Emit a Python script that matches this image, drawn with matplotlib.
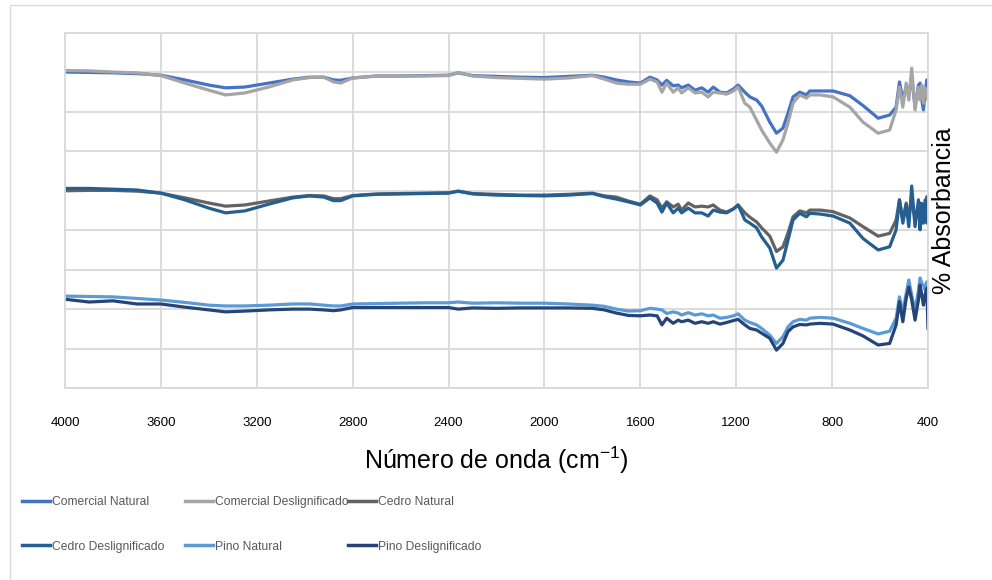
import matplotlib
matplotlib.use("Agg")
import matplotlib.pyplot as plt
from matplotlib.patches import Rectangle

plt.rcParams['font.family'] = ['Liberation Sans', 'DejaVu Sans']
plt.rcParams['mathtext.fontset'] = 'custom'
plt.rcParams['mathtext.rm'] = 'Liberation Sans'

# numero de onda (cm-1)
numero_onda = [4000, 3900, 3800, 3700, 3600, 3500, 3400, 3330, 3250, 3150,
               3050, 2980, 2920, 2880, 2850, 2800, 2700, 2600, 2500, 2400,
               2360, 2300, 2200, 2100, 2000, 1900, 1800, 1750, 1700, 1650,
               1600, 1560, 1530, 1510, 1490, 1463, 1442, 1428, 1400, 1372,
               1344, 1317, 1296, 1268, 1240, 1212, 1192, 1164, 1143, 1115,
               1094, 1060, 1032, 1005, 984, 963, 935, 907, 893, 850,
               796, 726, 671, 608, 560, 533, 519, 505, 491, 480,
               468, 454, 440, 433, 426, 419, 412, 405, 400]

comercial_natural = [80.1, 80.0, 79.9, 79.7, 79.3, 78.1, 76.8, 76.1, 76.3, 77.3,
                     78.3, 78.8, 78.8, 78.1, 78.0, 78.6, 79.1, 79.1, 79.2, 79.3,
                     79.9, 79.2, 79.0, 78.8, 78.7, 79.0, 79.3, 78.8, 78.1, 77.6,
                     77.3, 78.8, 78.1, 76.8, 78.0, 76.6, 76.8, 76.1, 76.8, 75.5,
                     76.1, 75.0, 76.3, 75.0, 74.8, 75.8, 76.8, 75.0, 73.8, 73.0,
                     71.5, 67.4, 64.6, 65.9, 69.7, 73.8, 75.0, 74.3, 75.3, 75.3,
                     75.3, 74.1, 71.6, 68.4, 69.2, 71.2, 77.6, 73.0, 76.3, 74.3,
                     78.8, 71.2, 76.8, 77.3, 73.0, 70.5, 75.0, 78.1, 74.8]

comercial_deslig = [80.5, 80.4, 80.1, 79.9, 79.2, 77.3, 75.5, 74.3, 74.8, 76.3,
                    78.1, 78.7, 78.8, 77.6, 77.3, 78.6, 79.1, 79.1, 79.1, 79.2,
                    80.0, 79.1, 78.7, 78.5, 78.3, 78.6, 79.2, 78.3, 77.3, 77.0,
                    77.0, 78.3, 77.6, 75.0, 77.3, 75.0, 76.1, 74.8, 76.1, 74.8,
                    75.0, 73.8, 75.0, 74.8, 74.5, 75.3, 76.3, 72.2, 71.2, 67.9,
                    65.4, 62.1, 59.8, 62.9, 67.2, 72.2, 74.3, 73.5, 74.3, 74.3,
                    73.8, 71.2, 67.4, 64.6, 65.4, 70.5, 76.3, 71.2, 77.3, 73.0,
                    81.1, 70.5, 76.3, 73.0, 76.8, 72.2, 76.1, 74.8, 73.0]

cedro_natural = [50.0, 50.1, 50.1, 49.9, 49.4, 48.2, 46.9, 46.1, 46.4, 47.4,
                 48.4, 48.8, 48.7, 48.0, 48.0, 48.8, 49.2, 49.3, 49.4, 49.5,
                 49.9, 49.3, 49.1, 48.9, 48.9, 49.1, 49.4, 48.7, 48.4, 47.4,
                 46.6, 48.7, 47.7, 45.6, 47.2, 45.9, 46.6, 45.1, 46.9, 45.9,
                 46.1, 45.9, 46.4, 45.1, 44.6, 45.4, 46.4, 44.4, 43.3, 42.1,
                 40.6, 38.5, 34.6, 35.8, 39.3, 43.4, 44.9, 44.4, 45.1, 45.1,
                 44.7, 43.1, 40.9, 38.5, 39.2, 42.6, 47.7, 42.6, 46.9, 43.4,
                 47.7, 42.6, 46.0, 46.9, 41.8, 46.4, 43.4, 48.5, 44.4]

cedro_deslig = [50.6, 50.6, 50.4, 50.2, 49.4, 47.7, 45.6, 44.4, 44.9, 46.6,
                48.2, 48.7, 48.4, 47.5, 47.5, 48.7, 49.1, 49.2, 49.3, 49.4,
                49.9, 49.2, 48.9, 48.8, 48.7, 48.9, 49.3, 48.5, 47.9, 47.2,
                46.4, 48.2, 46.9, 44.6, 46.9, 44.4, 45.6, 44.4, 45.6, 44.4,
                44.4, 43.6, 45.1, 44.6, 44.4, 45.4, 46.4, 42.6, 41.8, 40.6,
                38.3, 35.5, 30.4, 32.4, 37.5, 42.6, 44.3, 43.4, 44.3, 44.1,
                43.6, 41.8, 37.9, 35.0, 35.8, 40.1, 47.7, 41.8, 46.4, 40.9,
                51.2, 40.9, 47.7, 40.1, 46.8, 41.8, 47.7, 41.8, 46.0]

pino_natural = [23.3, 23.2, 23.1, 22.7, 22.3, 21.7, 21.0, 20.8, 20.8, 21.0,
                21.3, 21.3, 21.0, 20.8, 20.8, 21.3, 21.4, 21.5, 21.6, 21.6,
                21.8, 21.5, 21.6, 21.5, 21.5, 21.3, 21.0, 20.7, 20.0, 19.5,
                19.6, 20.2, 20.0, 19.8, 18.9, 19.3, 19.0, 18.5, 19.1, 18.5,
                18.8, 18.3, 18.5, 17.7, 17.9, 18.3, 18.8, 17.2, 16.6, 16.0,
                15.1, 13.4, 11.3, 13.0, 15.5, 16.8, 17.4, 17.2, 17.7, 17.9,
                17.7, 16.4, 15.1, 13.7, 14.4, 17.7, 23.1, 19.3, 24.0, 27.4,
                23.6, 19.5, 24.8, 27.9, 26.6, 26.1, 24.8, 26.9, 24.3]

pino_deslig = [22.5, 21.8, 22.1, 21.3, 21.3, 20.5, 19.8, 19.3, 19.5, 19.8,
               20.0, 20.0, 19.8, 19.6, 19.8, 20.4, 20.4, 20.4, 20.4, 20.4,
               20.0, 20.3, 20.2, 20.3, 20.3, 20.3, 20.2, 19.8, 19.0, 18.4,
               18.3, 18.5, 18.3, 16.0, 17.7, 16.4, 17.2, 16.8, 17.2, 16.4,
               16.8, 16.4, 16.8, 16.2, 16.6, 17.1, 17.4, 16.0, 15.1, 14.7,
               13.9, 12.6, 9.6, 11.3, 14.3, 15.5, 16.1, 16.0, 16.2, 16.4,
               16.2, 14.7, 13.2, 10.9, 11.3, 16.0, 21.9, 16.8, 22.7, 25.6,
               22.3, 17.2, 22.3, 26.1, 23.6, 21.0, 23.6, 25.3, 15.1]

nombres = ['Comercial Natural', 'Comercial Deslignificado', 'Cedro Natural',
           'Cedro Deslignificado', 'Pino Natural', 'Pino Deslignificado']
series = [comercial_natural, comercial_deslig, cedro_natural,
          cedro_deslig, pino_natural, pino_deslig]
colores = ['#4472C4', '#A5A5A5', '#636363', '#255E91', '#5B9BD5', '#264478']

grid_color = '#D9D9D9'
texto_color = '#595959'

fig = plt.figure(figsize=(9.92, 5.8), dpi=100)
ax = fig.add_axes([65 / 992, 1 - 388 / 580, 863 / 992, 355 / 580])

lineas = []
for nombre, valores, color in zip(nombres, series, colores):
    ln, = ax.plot(numero_onda, valores, color=color, linewidth=2.3, label=nombre,
                  solid_joinstyle='round')
    lineas.append(ln)

ax.set_xlim(4000, 400)
ax.set_ylim(0, 90)
ax.set_xticks(range(4000, 399, -400))
ax.set_yticks(range(0, 91, 10))
ax.set_yticklabels([])
ax.grid(True, color=grid_color, linewidth=1.3)
ax.set_axisbelow(True)
for sp in ax.spines.values():
    sp.set_color(grid_color)
    sp.set_linewidth(1.3)
ax.tick_params(axis='both', length=0)
ax.tick_params(axis='x', pad=21, labelsize=9.5, labelcolor='black')

ax.set_xlabel('Número de onda (cm$^{\\mathregular{-1}}$)', fontsize=18)
ax.xaxis.set_label_coords(0.5, (388 - 460) / 355)
ax.xaxis.label.set_va('center')

ax.yaxis.set_label_position('right')
ax.set_ylabel('% Absorbancia', fontsize=18)
ax.yaxis.set_label_coords((944 - 65) / 863, 0.5)
ax.yaxis.label.set_va('center')
ax.yaxis.label.set_ha('center')

# leyenda en 3 columnas de igual ancho como en excel
columnas = [(0, 3), (1, 4), (2, 5)]
x_cols = [22, 185, 348]
for (i, j), xc in zip(columnas, x_cols):
    leg = fig.legend([lineas[i], lineas[j]], [nombres[i], nombres[j]],
                     loc='upper left', bbox_to_anchor=(xc / 992, 1 - 496 / 580),
                     frameon=False, borderpad=0, borderaxespad=0,
                     handlelength=2.3, handletextpad=0.15, labelspacing=2.7,
                     prop={'size': 8.7}, labelcolor=texto_color)
    for h in leg.legend_handles:
        h.set_linewidth(2.5)

# borde del area del grafico
fig.add_artist(Rectangle((10 / 992, -0.05), 1.0, 1 - 5 / 580 + 0.05,
                         transform=fig.transFigure, fill=False,
                         edgecolor=grid_color, linewidth=1.0))

fig.savefig('out.png', dpi=100)
